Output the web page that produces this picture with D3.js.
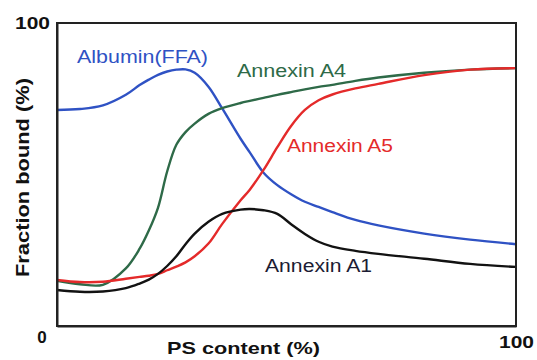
<!DOCTYPE html>
<html>
<head>
<meta charset="utf-8">
<script src="https://cdn.jsdelivr.net/npm/d3@7"></script>
<style>
  html, body { margin: 0; padding: 0; background: #fff; }
  svg { display: block; }
  text { font-family: "Liberation Sans", Arial, Helvetica, sans-serif; }
</style>
</head>
<body>
<svg id="chart" width="537" height="360"></svg>
<script>
// PS content (%) sample points shared by all curves
const psContent = [0, 5, 10, 15, 18, 20, 22, 24, 26, 28, 30, 33, 36, 40, 42, 45, 48, 51, 54, 57, 60, 65, 70, 80, 90, 100];

// Fraction bound (%) for each protein
const albuminFFA = [71.3, 71.6, 72.8, 76.3, 79.5, 81.3, 82.9, 84.0, 84.6, 84.7, 83.6, 79.0, 71.8, 61.8, 57.3, 50.6, 46.5, 43.5, 41.0, 39.3, 37.6, 35.0, 33.2, 30.5, 28.5, 27.0];
const annexinA4  = [14.9, 13.8, 13.6, 19.0, 25.5, 31.5, 39.0, 51.0, 59.8, 64.0, 66.8, 70.0, 71.9, 73.6, 74.3, 75.3, 76.3, 77.2, 78.1, 78.9, 79.6, 80.9, 82.0, 83.6, 84.6, 85.1];
const annexinA5  = [15.2, 14.5, 14.6, 15.6, 16.2, 16.6, 17.2, 18.4, 19.6, 21.0, 23.0, 27.2, 33.7, 41.5, 45.0, 51.5, 59.0, 66.0, 71.3, 74.5, 76.4, 78.4, 79.9, 82.8, 84.6, 85.1];
const annexinA1  = [11.9, 11.3, 11.4, 12.5, 14.0, 15.3, 17.2, 19.8, 23.0, 27.0, 30.5, 34.4, 37.0, 38.4, 38.6, 38.2, 37.0, 33.6, 30.4, 27.8, 26.2, 24.8, 23.8, 22.2, 20.5, 19.5];

// Axis tick labels
const xTickValues = [100];
const yTickValues = [100];
const originLabel = "0";

const series = [
  { name: "Albumin(FFA)", values: albuminFFA, color: "#2f52c4", label: { x: 77, y: 63, len: 131 } },
  { name: "Annexin A4",  values: annexinA4,  color: "#2e6a48", label: { x: 237, y: 77, len: 109 } },
  { name: "Annexin A5",  values: annexinA5,  color: "#e42a2a", label: { x: 287, y: 152, len: 106 } },
  { name: "Annexin A1",  values: annexinA1,  color: "#121212", label: { x: 265, y: 272, len: 107, color: "#1c1c34" } }
];

const W = 537, H = 360;
const margin = { top: 23, right: 21, bottom: 34, left: 57 };
const innerW = W - margin.left - margin.right;
const innerH = H - margin.top - margin.bottom;

const svg = d3.select("#chart");
const g = svg.append("g").attr("transform", `translate(${margin.left},${margin.top})`);

const x = d3.scaleLinear().domain([0, 100]).range([0, innerW]);
const y = d3.scaleLinear().domain([0, 100]).range([innerH, 0]);

// Smooth binding curves
const line = d3.line()
  .x((d, i) => x(psContent[i]))
  .y(d => y(d))
  .curve(d3.curveCatmullRom.alpha(0.5));

g.selectAll("path.curve")
  .data(series)
  .join("path")
  .attr("class", "curve")
  .attr("fill", "none")
  .attr("stroke", d => d.color)
  .attr("stroke-width", 2.4)
  .attr("stroke-linejoin", "round")
  .attr("d", d => line(d.values));

// Frame around the plot
g.append("rect")
  .attr("x", 0).attr("y", 0)
  .attr("width", innerW).attr("height", innerH)
  .attr("fill", "none")
  .attr("stroke", "#222")
  .attr("stroke-width", 2);

// Axes (only the end ticks are labelled)
const xAxis = g.append("g")
  .attr("transform", `translate(0,${innerH})`)
  .call(d3.axisBottom(x).tickValues(xTickValues).tickSize(0).tickPadding(17));
const yAxis = g.append("g")
  .call(d3.axisLeft(y).tickValues(yTickValues).tickSize(0).tickPadding(7));

[xAxis, yAxis].forEach(ax => {
  ax.select(".domain").attr("stroke", "#222").attr("stroke-width", 2);
  ax.selectAll("text")
    .attr("font-size", 17)
    .attr("font-weight", "bold")
    .attr("fill", "#111")
    .attr("textLength", 35)
    .attr("lengthAdjust", "spacingAndGlyphs");
});
xAxis.selectAll("text").attr("dy", "0.3em");
yAxis.selectAll("text").attr("dy", "0.35em");

// Shared origin label
g.append("text")
  .attr("x", x(0) - 15)
  .attr("y", innerH + 17)
  .attr("text-anchor", "middle")
  .attr("font-size", 17)
  .attr("font-weight", "bold")
  .attr("fill", "#111")
  .text(originLabel);

// Axis titles
svg.append("text")
  .attr("x", 167).attr("y", 354)
  .attr("font-size", 17)
  .attr("font-weight", "bold")
  .attr("fill", "#111")
  .attr("textLength", 153)
  .attr("lengthAdjust", "spacingAndGlyphs")
  .text("PS content (%)");

svg.append("text")
  .attr("transform", "translate(29,277) rotate(-90)")
  .attr("font-size", 18)
  .attr("font-weight", "bold")
  .attr("fill", "#111")
  .attr("textLength", 199)
  .attr("lengthAdjust", "spacingAndGlyphs")
  .text("Fraction bound (%)");

// Curve labels
svg.selectAll("text.curve-label")
  .data(series)
  .join("text")
  .attr("class", "curve-label")
  .attr("x", d => d.label.x)
  .attr("y", d => d.label.y)
  .attr("font-size", 18)
  .attr("fill", d => d.label.color || d.color)
  .attr("textLength", d => d.label.len)
  .attr("lengthAdjust", "spacingAndGlyphs")
  .text(d => d.name);
</script>
</body>
</html>
